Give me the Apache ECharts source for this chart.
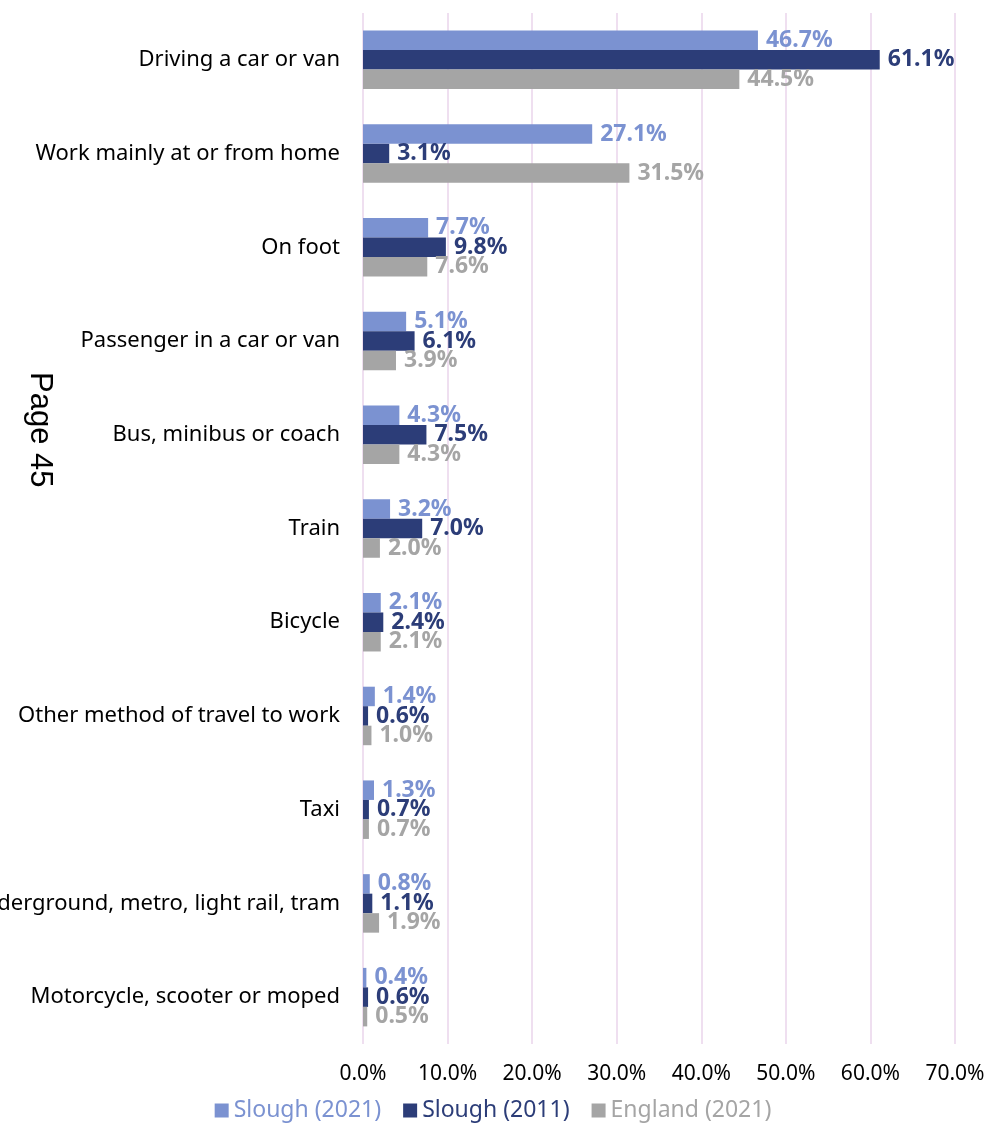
<!DOCTYPE html>
<html>
<head>
<meta charset="utf-8">
<script src="https://cdn.jsdelivr.net/npm/echarts@6/dist/echarts.min.js"></script>
<style>
  html, body { margin: 0; padding: 0; background: #fff; }
  #chart { width: 986px; height: 1124px; }
</style>
</head>
<body>
<div id="chart"></div>
<script>
const categories = [
  'Driving a car or van',
  'Work mainly at or from home',
  'On foot',
  'Passenger in a car or van',
  'Bus, minibus or coach',
  'Train',
  'Bicycle',
  'Other method of travel to work',
  'Taxi',
  'Underground, metro, light rail, tram',
  'Motorcycle, scooter or moped'
];
const slough2021 = [46.7, 27.1, 7.7, 5.1, 4.3, 3.2, 2.1, 1.4, 1.3, 0.8, 0.4];
const slough2011 = [61.1, 3.1, 9.8, 6.1, 7.5, 7.0, 2.4, 0.6, 0.7, 1.1, 0.6];
const england2021 = [44.5, 31.5, 7.6, 3.9, 4.3, 2.0, 2.1, 1.0, 0.7, 1.9, 0.5];
const seriesNames = ['Slough (2021)', 'Slough (2011)', 'England (2021)'];
const colors = ['#7b92d1', '#2c3d78', '#a5a5a5'];

const font = '"Noto Sans", "Open Sans", sans-serif';
const chart = echarts.init(document.getElementById('chart'));

function barSeries(name, data, color) {
  return {
    name: name,
    type: 'bar',
    data: data,
    barWidth: 19.5,
    barGap: '0%',
    itemStyle: { color: color },
    label: {
      show: true,
      position: 'right',
      distance: 8,
      color: color,
      fontFamily: font,
      fontWeight: 'bold',
      fontSize: 23,
      formatter: p => p.value.toFixed(1) + '%'
    }
  };
}

chart.setOption({
  animation: false,
  color: colors,
  grid: {
    left: 363, right: 31, top: 13, bottom: 80,
    containLabel: false,
    outerBoundsMode: 'none'
  },
  legend: {
    bottom: -3,
    left: 'center',
    itemWidth: 14,
    itemHeight: 14,
    itemGap: 22,
    icon: 'rect',
    textStyle: { fontFamily: font, fontSize: 23 },
    data: seriesNames.map((n, i) => ({ name: n, textStyle: { color: colors[i] } }))
  },
  xAxis: {
    type: 'value',
    min: 0,
    max: 70,
    interval: 10,
    axisLine: { show: false },
    axisTick: { show: false },
    splitLine: { lineStyle: { color: '#efdff0', width: 2 } },
    axisLabel: {
      fontFamily: font,
      fontSize: 21,
      color: '#000',
      margin: 20,
      formatter: v => v.toFixed(1) + '%'
    }
  },
  yAxis: {
    type: 'category',
    data: categories,
    inverse: true,
    axisLine: { show: false },
    axisTick: { show: false },
    axisLabel: {
      fontFamily: font,
      fontSize: 22,
      color: '#000',
      margin: 23
    }
  },
  graphic: [{
    type: 'text',
    left: 24,
    top: 372,
    rotation: -Math.PI / 2,
    style: {
      text: 'Page 45',
      font: '31px "Liberation Sans", Arial, sans-serif',
      fill: '#000'
    }
  }],
  series: [
    barSeries(seriesNames[0], slough2021, colors[0]),
    barSeries(seriesNames[1], slough2011, colors[1]),
    barSeries(seriesNames[2], england2021, colors[2])
  ]
});
</script>
</body>
</html>
